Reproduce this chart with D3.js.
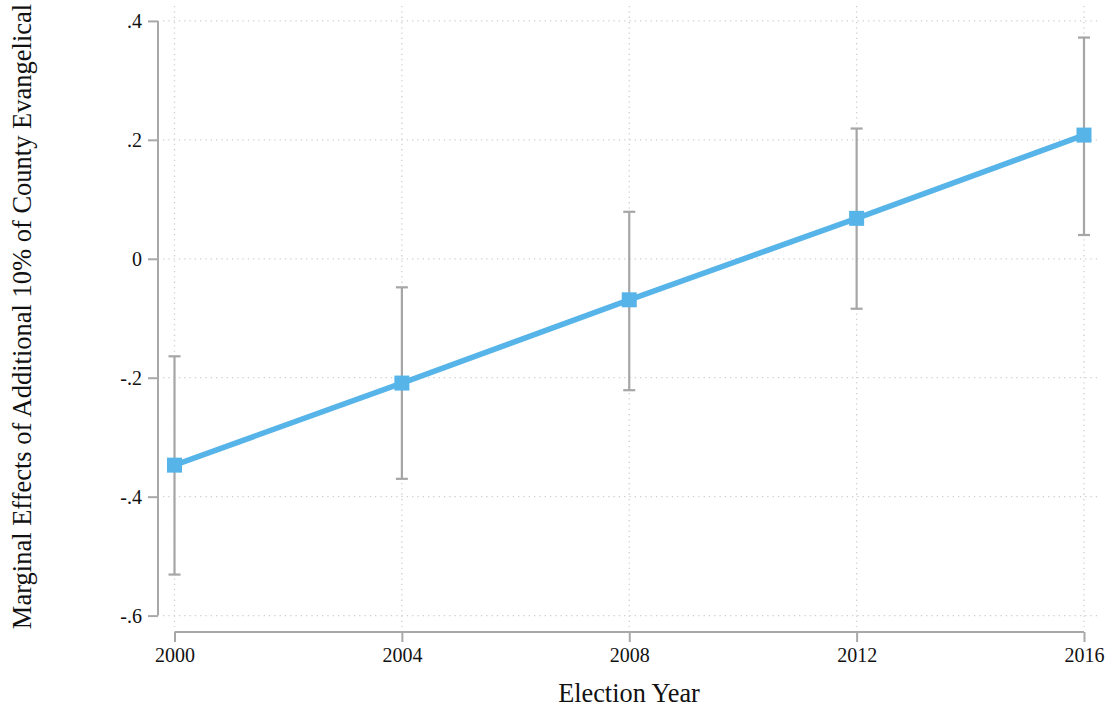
<!DOCTYPE html>
<html><head><meta charset="utf-8">
<script src="https://cdn.jsdelivr.net/npm/d3@7"></script>
<style>body{margin:0;background:#fff;} svg{display:block;}</style>
</head><body>
<svg id="c" width="1113" height="711"></svg>
<script>
const years = [2000, 2004, 2008, 2012, 2016];
const estimate = [-0.347, -0.209, -0.069, 0.068, 0.208];
const ciLower = [-0.531, -0.370, -0.221, -0.084, 0.040];
const ciUpper = [-0.164, -0.048, 0.079, 0.219, 0.372];
const yTicks = [-0.6, -0.4, -0.2, 0, 0.2, 0.4];
const yTickLabels = ["-.6", "-.4", "-.2", "0", ".2", ".4"];
const xTicks = [2000, 2004, 2008, 2012, 2016];
const yTitle = "Marginal Effects of Additional 10% of County Evangelical";
const xTitle = "Election Year";

const svg = d3.select("#c");
const font = "'Liberation Serif','Times New Roman',serif";
const x = d3.scaleLinear().domain([2000, 2016]).range([174.5, 1084]);
const y = d3.scaleLinear().domain([-0.6, 0.4]).range([615.6, 20.9]);
const plot = {l: 163, r: 1097, t: 6, b: 627};

// grid
const grid = svg.append("g").attr("stroke", "#cfcfcf").attr("stroke-width", 1.3).attr("stroke-dasharray", "1.3,4");
grid.selectAll(".h").data(yTicks).join("line")
  .attr("x1", plot.l).attr("x2", plot.r).attr("y1", d => y(d)).attr("y2", d => y(d));
grid.selectAll(".v").data(xTicks).join("line")
  .attr("y1", plot.t).attr("y2", plot.b).attr("x1", d => x(d)).attr("x2", d => x(d));

// y axis
const yAxis = svg.append("g").attr("transform", "translate(158,0)")
  .call(d3.axisLeft(y).tickValues(yTicks).tickFormat((d, i) => yTickLabels[i]).tickSize(10).tickPadding(6));
yAxis.select(".domain").attr("stroke", "#a8a8a8").attr("stroke-width", 2).attr("d", `M0,${y(-0.6)}V${y(0.4)}`);
yAxis.selectAll(".tick line").attr("stroke", "#a8a8a8").attr("stroke-width", 2);
yAxis.selectAll(".tick text").attr("font-family", font).attr("font-size", 20).attr("fill", "#111");

// x axis
const xAxis = svg.append("g").attr("transform", "translate(0,632)")
  .call(d3.axisBottom(x).tickValues(xTicks).tickFormat(d3.format("d")).tickSize(10).tickPadding(6));
xAxis.select(".domain").attr("stroke", "#a8a8a8").attr("stroke-width", 2).attr("d", `M${x(2000)},0H${x(2016)}`);
xAxis.selectAll(".tick line").attr("stroke", "#a8a8a8").attr("stroke-width", 2);
xAxis.selectAll(".tick text").attr("font-family", font).attr("font-size", 20).attr("fill", "#111");

const data = years.map((yr, i) => ({yr, est: estimate[i], lo: ciLower[i], hi: ciUpper[i]}));

// error bars
const eb = svg.append("g").attr("stroke", "#a6a6a6").attr("stroke-width", 2.2).attr("fill", "none");
eb.selectAll(".v").data(data).join("line")
  .attr("x1", d => x(d.yr)).attr("x2", d => x(d.yr)).attr("y1", d => y(d.lo)).attr("y2", d => y(d.hi));
eb.selectAll(".ct").data(data).join("line")
  .attr("x1", d => x(d.yr) - 6).attr("x2", d => x(d.yr) + 6).attr("y1", d => y(d.hi)).attr("y2", d => y(d.hi));
eb.selectAll(".cb").data(data).join("line")
  .attr("x1", d => x(d.yr) - 6).attr("x2", d => x(d.yr) + 6).attr("y1", d => y(d.lo)).attr("y2", d => y(d.lo));

// line
const blue = "#56b4e9";
svg.append("path").datum(data)
  .attr("fill", "none").attr("stroke", blue).attr("stroke-width", 5.5)
  .attr("d", d3.line().x(d => x(d.yr)).y(d => y(d.est)));
svg.append("g").selectAll("rect").data(data).join("rect")
  .attr("x", d => x(d.yr) - 7.5).attr("y", d => y(d.est) - 7.5)
  .attr("width", 15).attr("height", 15).attr("fill", blue);

// titles
svg.append("text").attr("transform", `translate(31,316.5) rotate(-90)`)
  .attr("text-anchor", "middle").attr("font-family", font).attr("font-size", 26.5).attr("fill", "#111")
  .text(yTitle);
svg.append("text").attr("x", 629).attr("y", 702)
  .attr("text-anchor", "middle").attr("font-family", font).attr("font-size", 26.3).attr("fill", "#111")
  .text(xTitle);
</script>
</body></html>
